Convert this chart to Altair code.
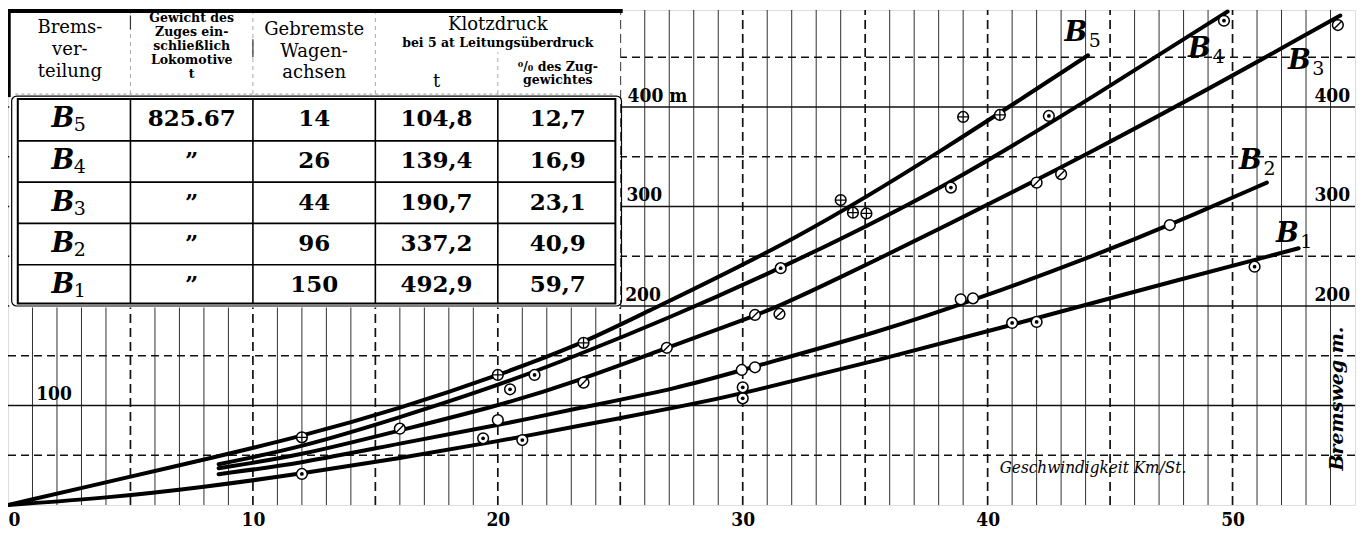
import altair as alt
import pandas as pd

# ---------------- curves: speed (km/h) -> braking distance (m) ----------------
b5_v = [0, 5, 7.9, 12, 16, 20, 23.5, 25.3, 32.4, 38.2, 44.1]
b5_s = [0, 28.5, 45, 69, 97, 130, 163, 185, 269, 357, 452]
b4_v = [8.6, 12, 16, 20, 23.2, 26.8, 31.6, 38.5, 44.6, 49.8]
b4_s = [41, 58, 88, 120, 150, 186, 238, 322, 415, 496]
b3_v = [8.6, 12, 16, 20, 23.2, 26.9, 30.5, 32.4, 44.6, 54.4]
b3_s = [37, 50, 75, 99.5, 124, 158, 190, 209, 357, 492]
b2_v = [8.6, 12, 16, 20, 23.2, 27.5, 30, 35.6, 39.7, 44.6, 47.4, 51.4]
b2_s = [31, 42, 62, 80, 97, 118, 136, 174, 208, 253, 281, 324]
b1_v = [0, 4, 8, 12, 16, 20, 23.2, 27.5, 30, 35.6, 41, 45, 52.7]
b1_s = [0, 7, 18, 31.5, 47, 64, 79, 99, 112, 146, 181, 208, 258]

# ---------------- measured points ----------------
p5_v = [12.0, 20.0, 23.5, 34.0, 34.5, 35.05, 39.0, 40.5]
p5_s = [68, 130.7, 163, 306.5, 293.8, 293, 390, 392]
p4_v = [20.5, 21.5, 31.55, 38.5, 42.5, 49.65]
p4_s = [116.3, 130.7, 238, 319, 391, 486.7]
p3_v = [16.0, 23.5, 26.9, 30.5, 31.5, 42.0, 43.0, 54.3]
p3_s = [76.7, 123, 158, 191, 192, 324, 332.6, 482.4]
p2_v = [20.0, 29.96, 30.5, 38.9, 39.4, 47.44]
p2_s = [85.4, 135.7, 138.4, 206.7, 207.7, 281.4]
p1_v = [12.0, 19.4, 21.0, 30.0, 30.0, 41.0, 42.0, 50.9]
p1_s = [31.2, 67, 65.3, 118.3, 107.2, 183, 184, 239.5]

# ---------------- curve labels ----------------
lab_sub = ["5", "4", "3", "2", "1"]
lab_v = [43.6, 48.65, 52.73, 50.73, 52.24]
lab_s = [473.9, 458.3, 446.0, 345.7, 272.4]

# ---------------- table ----------------
tab_sub = ["5", "4", "3", "2", "1"]
tab_weight = ["825.67", "\u201d", "\u201d", "\u201d", "\u201d"]
tab_axles = ["14", "26", "44", "96", "150"]
tab_force_t = ["104,8", "139,4", "190,7", "337,2", "492,9"]
tab_force_pct = ["12,7", "16,9", "23,1", "40,9", "59,7"]

x_ticks = [0, 10, 20, 30, 40, 50]
y_label_vals = [100, 200, 300, 400]

# ---------------- layout ----------------
W, H = 1347, 495
XMAX, YMAX = 55, 497.5
NUM = "'DejaVu Serif Condensed', 'DejaVu Serif', serif"
SER = "'DejaVu Serif', serif"

XS = alt.Scale(domain=[0, XMAX], nice=False, zero=False)
YS = alt.Scale(domain=[0, YMAX], nice=False, zero=False)
XAX = alt.Axis(values=x_ticks, title=None, grid=False, ticks=False, domain=False,
               labelFont=NUM, labelFontSize=19, labelFontWeight="bold",
               labelColor="black", labelPadding=5, labelFlush=True)


def X(f="x"):
    return alt.X(f + ":Q", scale=XS, axis=XAX)


def Y(f="y"):
    return alt.Y(f + ":Q", scale=YS, axis=None)


layers = []

# grid
vsol = pd.DataFrame({"x": [v for v in range(1, XMAX) if v % 5]})
vsol["y"], vsol["y2"] = 0, YMAX
vdash = pd.DataFrame({"x": list(range(5, XMAX, 5))})
vdash["y"], vdash["y2"] = 0, YMAX
hsol = pd.DataFrame({"y": [100, 200, 300, 400]})
hsol["x"], hsol["x2"] = 0, XMAX
hdash = pd.DataFrame({"y": [50, 150, 250, 350, 450]})
hdash["x"], hdash["x2"] = 0, XMAX

layers.append(alt.Chart(vsol).mark_rule(color="#1a1a1a", strokeWidth=0.9).encode(
    x=X(), y=Y(), y2="y2:Q"))
layers.append(alt.Chart(vdash).mark_rule(color="#111", strokeWidth=1.7, strokeDash=[9, 5]).encode(
    x=X(), y=Y(), y2="y2:Q"))
layers.append(alt.Chart(hsol).mark_rule(color="#111", strokeWidth=1.6).encode(
    x=X(), x2="x2:Q", y=Y()))
layers.append(alt.Chart(hdash).mark_rule(color="#111", strokeWidth=1.6, strokeDash=[8, 5]).encode(
    x=X(), x2="x2:Q", y=Y()))

# table geometry (in chart units)
col_edges = [0.05, 5, 10, 15, 20, 24.9]
row_edges = [410, 366, 324.5, 283, 241.5, 200]
col_mid = [(a + b) / 2 for a, b in zip(col_edges[:-1], col_edges[1:])]
row_mid = [(a + b) / 2 for a, b in zip(row_edges[:-1], row_edges[1:])]

bg = pd.DataFrame({"x": [col_edges[0]], "x2": [col_edges[-1] + 0.1], "y": [row_edges[-1] - 1.5], "y2": [YMAX]})
layers.append(alt.Chart(bg).mark_rect(fill="white").encode(x=X(), x2="x2:Q", y=Y(), y2="y2:Q"))

# header top thick line and left border
top = pd.DataFrame({"x": [0], "x2": [col_edges[-1] + 0.2], "y": [YMAX - 1]})
layers.append(alt.Chart(top).mark_rule(color="black", strokeWidth=4).encode(x=X(), x2="x2:Q", y=Y()))
lft = pd.DataFrame({"x": [0.05], "y": [row_edges[0]], "y2": [YMAX]})
layers.append(alt.Chart(lft).mark_rule(color="black", strokeWidth=3).encode(x=X(), y=Y(), y2="y2:Q"))

# header faint separators
hsep = pd.DataFrame({"x": [5, 10, 15, 20], "y": [row_edges[0] + 3] * 4, "y2": [YMAX - 3, YMAX - 3, YMAX - 3, 455]})
layers.append(alt.Chart(hsep).mark_rule(color="#aaa", strokeWidth=1, strokeDash=[4, 4]).encode(
    x=X(), y=Y(), y2="y2:Q"))
hsep2 = pd.DataFrame({"x": [5, 10], "y": [478, 450], "y2": [492, 468]})
layers.append(alt.Chart(hsep2).mark_rule(color="#333", strokeWidth=1.2).encode(x=X(), y=Y(), y2="y2:Q"))
hline = pd.DataFrame({"x": [0.3], "x2": [24.8], "y": [row_edges[0] + 3]})
layers.append(alt.Chart(hline).mark_rule(color="#999", strokeWidth=1, strokeDash=[3, 3]).encode(
    x=X(), x2="x2:Q", y=Y()))

# table box: outer thin + inner thick
outer = pd.DataFrame({"x": [0.15], "x2": [25.05], "y": [row_edges[-1]], "y2": [row_edges[0] + 1]})
layers.append(alt.Chart(outer).mark_rect(filled=False, stroke="black", strokeWidth=1.2, cornerRadius=5).encode(
    x=X(), x2="x2:Q", y=Y(), y2="y2:Q"))
inner = pd.DataFrame({"x": [0.4], "x2": [24.8], "y": [row_edges[-1] + 2.5], "y2": [row_edges[0] - 2]})
layers.append(alt.Chart(inner).mark_rect(filled=False, stroke="black", strokeWidth=2).encode(
    x=X(), x2="x2:Q", y=Y(), y2="y2:Q"))
rows = pd.DataFrame({"y": row_edges[1:-1]})
rows["x"], rows["x2"] = 0.4, 24.8
layers.append(alt.Chart(rows).mark_rule(color="black", strokeWidth=1.6).encode(x=X(), x2="x2:Q", y=Y()))
cols = pd.DataFrame({"x": col_edges[1:-1]})
cols["y"], cols["y2"] = row_edges[-1] + 2.5, row_edges[0] - 2
layers.append(alt.Chart(cols).mark_rule(color="black", strokeWidth=1.6).encode(x=X(), y=Y(), y2="y2:Q"))


def txt(df, size, weight="normal", style="normal", font=NUM, align="center", baseline="middle",
        dx=0, dy=0, angle=0):
    kw = dict(fontSize=size, fontWeight=weight, fontStyle=style, font=font, align=align,
              baseline=baseline, dx=dx, dy=dy, color="black")
    if angle:
        kw["angle"] = angle
    return alt.Chart(df).mark_text(**kw).encode(x=X(), y=Y(), text="t:N")


# header texts
hdr_big = pd.DataFrame({
    "t": ["Brems-", "ver-", "teilung", "Gebremste", "Wagen-", "achsen", "Klotzdruck", "t"],
    "x": [col_mid[0]] * 3 + [col_mid[2]] * 3 + [col_edges[4], col_mid[3]],
    "y": [479.4, 457.3, 435.2, 477.4, 455.3, 434.2, 482.4, 425.1]})
layers.append(txt(hdr_big, 18, font=SER))
hdr_small = pd.DataFrame({
    "t": ["Gewicht des", "Zuges ein-", "schließlich", "Lokomotive", "t",
          "bei 5 at Leitungsüberdruck", "\u2070/\u2080 des Zug-", "gewichtes"],
    "x": [col_mid[1]] * 5 + [col_edges[4], col_mid[4], col_mid[4]],
    "y": [489.4, 475.4, 461.3, 447.2, 433.1, 464.3, 440.2, 427.1]})
layers.append(txt(hdr_small, 12.5, weight="bold", font=SER))

# table body
bdf = pd.DataFrame({"t": ["B"] * 5, "x": [col_mid[0]] * 5, "y": row_mid})
layers.append(txt(bdf, 27, weight="bold", style="italic", font=SER, dx=-7))
sdf = pd.DataFrame({"t": tab_sub, "x": [col_mid[0]] * 5, "y": row_mid})
layers.append(txt(sdf, 19, font=SER, dx=10, dy=6))
vals = pd.DataFrame({
    "t": tab_weight + tab_axles + tab_force_t + tab_force_pct,
    "x": [col_mid[1]] * 5 + [col_mid[2]] * 5 + [col_mid[3]] * 5 + [col_mid[4]] * 5,
    "y": row_mid * 4})
layers.append(txt(vals, 23, weight="bold", font=SER))

# curves
cur = []
for name, vv, ss in [("B5", b5_v, b5_s), ("B4", b4_v, b4_s), ("B3", b3_v, b3_s),
                     ("B2", b2_v, b2_s), ("B1", b1_v, b1_s)]:
    for i, (a, b) in enumerate(zip(vv, ss)):
        cur.append({"series": name, "x": a, "y": b, "o": i})
cur = pd.DataFrame(cur)
layers.append(alt.Chart(cur).mark_line(color="black", strokeWidth=4, interpolate="basis",
                                       strokeCap="round").encode(
    x=X(), y=Y(), detail="series:N", order="o:Q"))

# points
pts = []
for kind, vv, ss in [("plus", p5_v, p5_s), ("dot", p4_v, p4_s), ("slash", p3_v, p3_s),
                     ("open", p2_v, p2_s), ("dot", p1_v, p1_s)]:
    for a, b in zip(vv, ss):
        pts.append({"kind": kind, "x": a, "y": b})
pts = pd.DataFrame(pts)
layers.append(alt.Chart(pts).mark_point(shape="circle", size=115, filled=True, fill="white",
                                        stroke="black", strokeWidth=1.5, opacity=1).encode(x=X(), y=Y()))
layers.append(alt.Chart(pts).transform_filter("datum.kind == 'plus'").mark_point(
    shape="M-1,0H1M0,-1V1", size=115, filled=False, stroke="black", strokeWidth=1.3, opacity=1).encode(
    x=X(), y=Y()))
layers.append(alt.Chart(pts).transform_filter("datum.kind == 'slash'").mark_point(
    shape="M-0.75,0.75L0.75,-0.75", size=115, filled=False, stroke="black", strokeWidth=1.4, opacity=1).encode(
    x=X(), y=Y()))
layers.append(alt.Chart(pts).transform_filter("datum.kind == 'dot'").mark_point(
    shape="circle", size=14, filled=True, color="black", opacity=1).encode(x=X(), y=Y()))

# curve labels
ldf = pd.DataFrame({"t": ["B"] * 5, "x": lab_v, "y": lab_s})
layers.append(txt(ldf, 27, style="italic", weight="bold", font=SER))
lsub = pd.DataFrame({"t": lab_sub, "x": lab_v, "y": lab_s})
layers.append(txt(lsub, 19, font=SER, dx=19, dy=8))

# y value labels inside the plot
yl_left = pd.DataFrame({"t": ["100", "200", "300", "400 m"], "x": [1.15, 25.2, 25.25, 25.3],
                        "y": [v + 1.5 for v in y_label_vals]})
layers.append(txt(yl_left, 19, weight="bold", align="left", baseline="bottom"))
yl_right = pd.DataFrame({"t": ["200", "300", "400"], "x": [54.8] * 3, "y": [v + 1.5 for v in y_label_vals[1:]]})
layers.append(txt(yl_right, 19, weight="bold", align="right", baseline="bottom"))

# axis titles (written inside the plot)
xt = pd.DataFrame({"t": ["Geschwindigkeit Km/St."], "x": [44.3], "y": [37]})
layers.append(txt(xt, 17, style="italic", font=NUM))
yt = pd.DataFrame({"t": ["Bremsweg m."], "x": [54.25], "y": [107]})
layers.append(txt(yt, 19, weight="bold", style="italic", font=SER, angle=270))

chart = alt.layer(*layers).properties(
    width=W, height=H,
    autosize=alt.AutoSizeParams(type="none"),
    padding={"left": 0, "top": 2, "right": 4, "bottom": 30}
).configure_view(stroke="black", strokeWidth=2).configure(background="white")

chart.save("out.html", embed_options={"renderer": "svg", "actions": False})
